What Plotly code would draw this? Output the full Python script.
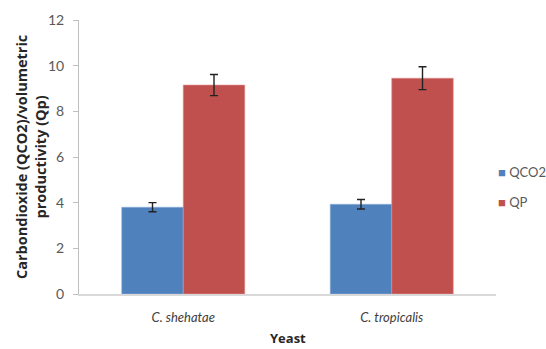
import plotly.graph_objects as go

yeasts = ["C. shehatae", "C. tropicalis"]
qco2 = [3.80, 3.93]
qco2_err = [0.20, 0.21]
qp = [9.15, 9.45]
qp_err = [0.46, 0.50]
series_names = ["QCO2", "QP"]
series_colors = ["#4F81BD", "#C0504D"]
y_ticks = [0, 2, 4, 6, 8, 10, 12]

font_family = "Lato, 'Open Sans', sans-serif"
title_family = "'Open Sans', sans-serif"
err_style = dict(type="data", visible=True, color="#222222", thickness=1.4, width=4)

fig = go.Figure()
fig.add_trace(go.Bar(
    name=series_names[0], x=yeasts, y=qco2,
    marker=dict(color=series_colors[0], line=dict(color="#8FB0DA", width=0.6)),
    error_y=dict(array=qco2_err, **err_style),
))
fig.add_trace(go.Bar(
    name=series_names[1], x=yeasts, y=qp,
    marker=dict(color=series_colors[1], line=dict(color="#E08D8B", width=0.6)),
    error_y=dict(array=qp_err, **err_style),
))

# legend entries drawn as text: a coloured square followed by the series name
legend_y = [0.445, 0.336]
legend_notes = [
    dict(
        text=f'<span style="color:{c}">■</span> {n}',
        xref="paper", yref="paper", x=1.0, y=ly,
        xanchor="left", yanchor="middle", showarrow=False,
        font=dict(size=13, color="#595959", family=font_family),
    )
    for n, c, ly in zip(series_names, series_colors, legend_y)
]

fig.update_layout(
    width=546, height=349,
    margin=dict(l=79, r=50, t=20, b=55),
    paper_bgcolor="white", plot_bgcolor="white",
    barmode="group", bargap=0.41, bargroupgap=0,
    font=dict(family=font_family, color="#595959", size=13),
    showlegend=False,
    xaxis=dict(
        showline=True, linecolor="#D9D9D9", linewidth=2,
        ticks="", showgrid=False,
        tickfont=dict(size=13, color="#404040", family=font_family, style="italic"),
        ticklabelstandoff=10,
    ),
    yaxis=dict(
        range=[0, 12], tickvals=y_ticks,
        showline=True, linecolor="#BFBFBF", linewidth=1,
        ticks="outside", ticklen=5, tickcolor="#BFBFBF",
        showgrid=False, zeroline=False,
        tickfont=dict(size=14, color="#595959"),
        ticklabelstandoff=6,
    ),
    annotations=[
        dict(
            text="<b>Carbondioxide (QCO2)/volumetric</b><br><b>productivity (Qp)</b>",
            xref="paper", yref="paper", x=-0.115, y=0.5,
            xanchor="center", yanchor="middle", textangle=-90,
            showarrow=False, font=dict(size=14.5, color="#262626", family=title_family),
        ),
        dict(
            text="<b>Yeast</b>",
            xref="paper", yref="paper", x=0.5, y=-0.162,
            xanchor="center", yanchor="middle",
            showarrow=False, font=dict(size=13, color="#262626", family=title_family),
        ),
    ] + legend_notes,
)

fig.write_html("out.html")
